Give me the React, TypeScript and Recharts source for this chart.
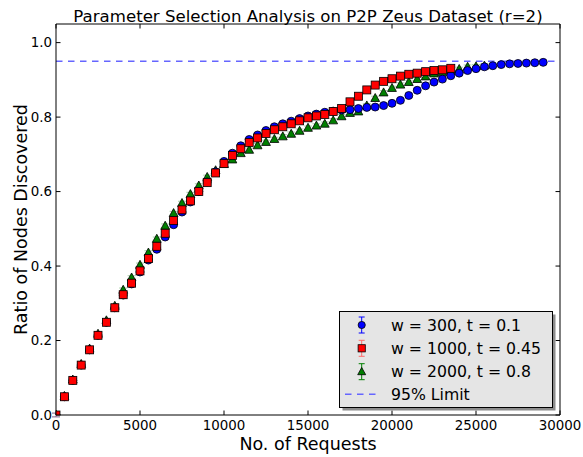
import React from 'react';
import { ComposedChart, Scatter, XAxis, YAxis, ReferenceLine, ErrorBar, Legend } from 'recharts';

const requests = [
  0, 500, 1000, 1500, 2000, 2500, 3000, 3500, 4000, 4500,
  5000, 5500, 6000, 6500, 7000, 7500, 8000, 8500, 9000, 9500,
  10000, 10500, 11000, 11500, 12000, 12500, 13000, 13500, 14000, 14500,
  15000, 15500, 16000, 16500, 17000, 17500, 18000, 18500, 19000, 19500,
  20000, 20500, 21000, 21500, 22000, 22500, 23000, 23500, 24000, 24500,
  25000, 25500, 26000, 26500, 27000, 27500, 28000, 28500, 29000,
];

const ratioW300 = [
  0.0, 0.049, 0.093, 0.134, 0.175, 0.214, 0.249, 0.288, 0.322, 0.352,
  0.384, 0.416, 0.445, 0.478, 0.511, 0.545, 0.572, 0.6, 0.626, 0.653,
  0.681, 0.703, 0.723, 0.74, 0.752, 0.764, 0.774, 0.782, 0.789, 0.796,
  0.803, 0.808, 0.813, 0.816, 0.819, 0.82, 0.823, 0.826, 0.827, 0.831,
  0.837, 0.845, 0.858, 0.872, 0.884, 0.894, 0.902, 0.911, 0.918, 0.925,
  0.93, 0.935, 0.938, 0.941, 0.943, 0.944, 0.945, 0.946, 0.947,
];

const ratioW1000 = [
  0.0, 0.049, 0.093, 0.134, 0.175, 0.214, 0.249, 0.288, 0.323, 0.354,
  0.387, 0.42, 0.453, 0.488, 0.522, 0.551, 0.575, 0.6, 0.624, 0.65,
  0.675, 0.697, 0.715, 0.732, 0.744, 0.756, 0.766, 0.774, 0.782, 0.79,
  0.798, 0.803, 0.807, 0.815, 0.823, 0.841, 0.856, 0.873, 0.886, 0.896,
  0.903, 0.91, 0.915, 0.918, 0.922, 0.925, 0.927, 0.931,
];

const ratioW2000 = [
  0.0, 0.051, 0.095, 0.137, 0.178, 0.218, 0.254, 0.293, 0.336, 0.369,
  0.403, 0.436, 0.473, 0.508, 0.542, 0.569, 0.593, 0.616, 0.639, 0.657,
  0.674, 0.686, 0.703, 0.712, 0.724, 0.733, 0.741, 0.748, 0.755, 0.763,
  0.771, 0.777, 0.782, 0.791, 0.802, 0.811, 0.815, 0.831, 0.851, 0.866,
  0.878, 0.887, 0.894, 0.902, 0.909, 0.917, 0.92, 0.924, 0.929, 0.935,
  0.936, 0.938,
];

const errW300 = 0.005;
const errW1000 = 0.005;
const errW2000 = 0.005;

const xTicks = [0, 5000, 10000, 15000, 20000, 25000, 30000];
const yTicks = [0, 0.2, 0.4, 0.6, 0.8, 1.0];

const seriesLabels = ['w = 300, t = 0.1', 'w = 1000, t = 0.45', 'w = 2000, t = 0.8'];
const limitLabel = '95% Limit';
const limitValue = 0.95;
const titleText = 'Parameter Selection Analysis on P2P Zeus Dataset (r=2)';
const xLabel = 'No. of Requests';
const yLabel = 'Ratio of Nodes Discovered';

const FONT = '"DejaVu Sans", Verdana, sans-serif';
const TL = 4.5;

const toPoints = (vals: number[], err: number) =>
  vals.map((v, i) => ({ x: requests[i], y: v, err }));

const dataW300 = toPoints(ratioW300, errW300);
const dataW1000 = toPoints(ratioW1000, errW1000);
const dataW2000 = toPoints(ratioW2000, errW2000);

const CircleShape = (p: any) => (
  <circle cx={p.cx} cy={p.cy} r={4} fill="#0000ff" stroke="#000" strokeWidth={0.8} />
);
const SquareShape = (p: any) => (
  <rect x={p.cx - 4} y={p.cy - 4} width={8} height={8} fill="#ff0000" stroke="#000" strokeWidth={0.8} />
);
const TriShape = (p: any) => (
  <polygon
    points={`${p.cx},${p.cy - 4.6} ${p.cx - 4.4},${p.cy + 3.4} ${p.cx + 4.4},${p.cy + 3.4}`}
    fill="#007f00"
    stroke="#000"
    strokeWidth={0.8}
  />
);
const NoShape = () => <g />;

const BottomTick = (props: any) => {
  const { x, y, payload } = props;
  const ay = y - 5;
  return (
    <g>
      <line x1={x} x2={x} y1={ay} y2={ay - TL} stroke="#000" strokeWidth={1} />
      <text x={x} y={y} dy="0.71em" textAnchor="middle" fontSize={13.4} fontFamily={FONT} fill="#000">
        {payload.value}
      </text>
    </g>
  );
};
const TopTick = (props: any) => {
  const { x, y } = props;
  return <line x1={x} x2={x} y1={y} y2={y + TL} stroke="#000" strokeWidth={1} />;
};
const LeftTick = (props: any) => {
  const { x, y, payload } = props;
  const ax = x + 4;
  return (
    <g>
      <line x1={ax} x2={ax + TL} y1={y} y2={y} stroke="#000" strokeWidth={1} />
      <text x={x} y={y} dy="0.355em" textAnchor="end" fontSize={13.4} fontFamily={FONT} fill="#000">
        {Number(payload.value).toFixed(1)}
      </text>
    </g>
  );
};
const RightTick = (props: any) => {
  const { x, y } = props;
  return <line x1={x} x2={x - TL} y1={y} y2={y} stroke="#000" strokeWidth={1} />;
};

const XTitle = (props: any) => {
  const vb = props.viewBox || {};
  return (
    <text x={vb.x + vb.width / 2} y={vb.y + 34.5} textAnchor="middle" fontSize={17.5} fontFamily={FONT} fill="#000">
      {xLabel}
    </text>
  );
};
const YTitle = (props: any) => {
  const vb = props.viewBox || {};
  const cy = vb.y + vb.height / 2;
  return (
    <text
      x={27}
      y={cy}
      transform={`rotate(-90 27 ${cy})`}
      textAnchor="middle"
      fontSize={17.5}
      fontFamily={FONT}
      fill="#000"
    >
      {yLabel}
    </text>
  );
};
const ChartTitle = (props: any) => {
  const vb = props.viewBox || {};
  return (
    <text x={vb.x + vb.width / 2} y={vb.y - 1.5} textAnchor="middle" fontSize={16.6} fontFamily={FONT} fill="#000">
      {titleText}
    </text>
  );
};

const ErrIcon = ({ cx, cy, color }: { cx: number; cy: number; color: string }) => (
  <g stroke={color} strokeWidth={1}>
    <line x1={cx} x2={cx} y1={cy - 8} y2={cy + 8} />
    <line x1={cx - 3} x2={cx + 3} y1={cy - 8} y2={cy - 8} />
    <line x1={cx - 3} x2={cx + 3} y1={cy + 8} y2={cy + 8} />
  </g>
);

const LegendBox = () => {
  const rows = [14, 37.3, 60.7, 83.3];
  const mx = 22.7;
  const tx = 52;
  return (
    <svg width={220} height={102} style={{ display: 'block' }}>
      <rect x={3.5} y={3.5} width={213} height={96} fill="#8c8c8c" />
      <rect x={0.5} y={0.5} width={213} height={96} fill="#e5e5e5" stroke="#000" strokeWidth={1} />
      <ErrIcon cx={mx} cy={rows[0]} color="#0000ff" />
      <circle cx={mx} cy={rows[0]} r={3.6} fill="#0000ff" stroke="#000" strokeWidth={0.8} />
      <ErrIcon cx={mx} cy={rows[1]} color="#ff6b6b" />
      <rect x={mx - 3.6} y={rows[1] - 3.6} width={7.2} height={7.2} fill="#ff0000" stroke="#000" strokeWidth={0.8} />
      <ErrIcon cx={mx} cy={rows[2]} color="#007f00" />
      <polygon
        points={`${mx},${rows[2] - 4.2} ${mx - 4},${rows[2] + 3} ${mx + 4},${rows[2] + 3}`}
        fill="#007f00"
        stroke="#000"
        strokeWidth={0.8}
      />
      <line x1={6} x2={40} y1={rows[3]} y2={rows[3]} stroke="#6666ff" strokeWidth={1.5} strokeDasharray="6.5 5.5" />
      {seriesLabels.concat([limitLabel]).map((s, i) => (
        <text key={s} x={tx} y={rows[i]} dy="0.36em" fontSize={15.7} fontFamily={FONT} fill="#000">
          {s}
        </text>
      ))}
    </svg>
  );
};

export default function App() {
  return (
    <div style={{ position: 'absolute', left: 0, top: 0, width: 583, height: 457, background: '#fff' }}>
      <ComposedChart width={583} height={457} margin={{ top: 23, right: 22, bottom: 0, left: 0 }}>
        <XAxis
          xAxisId="bottom"
          type="number"
          dataKey="x"
          domain={[0, 30000]}
          ticks={xTicks}
          allowDataOverflow
          height={42}
          tickSize={0}
          tickMargin={5}
          tick={<BottomTick />}
          axisLine={{ stroke: '#000', strokeWidth: 1 }}
          tickLine={false}
          interval={0}
          label={<XTitle />}
        />
        <XAxis
          xAxisId="top"
          orientation="top"
          type="number"
          dataKey="x"
          domain={[0, 30000]}
          ticks={xTicks}
          allowDataOverflow
          height={1}
          tickSize={0}
          tickMargin={0}
          tick={<TopTick />}
          axisLine={{ stroke: '#000', strokeWidth: 1 }}
          tickLine={false}
          interval={0}
          label={<ChartTitle />}
        />
        <YAxis
          yAxisId="left"
          type="number"
          dataKey="y"
          domain={[0, 1.05]}
          ticks={yTicks}
          allowDataOverflow
          width={56}
          tickSize={0}
          tickMargin={4}
          tick={<LeftTick />}
          axisLine={{ stroke: '#000', strokeWidth: 1 }}
          tickLine={false}
          interval={0}
          label={<YTitle />}
        />
        <YAxis
          yAxisId="right"
          orientation="right"
          type="number"
          dataKey="y"
          domain={[0, 1.05]}
          ticks={yTicks}
          allowDataOverflow
          width={1}
          tickSize={0}
          tickMargin={0}
          tick={<RightTick />}
          axisLine={{ stroke: '#000', strokeWidth: 1 }}
          tickLine={false}
          interval={0}
        />
        <ReferenceLine
          xAxisId="bottom"
          yAxisId="left"
          y={limitValue}
          stroke="#6666ff"
          strokeWidth={1.5}
          strokeDasharray="6.5 5.5"
        />
        <Scatter
          data={dataW300}
          xAxisId="top"
          yAxisId="right"
          shape={NoShape}
          legendType="none"
          isAnimationActive={false}
        />
        <Scatter
          name={seriesLabels[2]}
          data={dataW2000}
          xAxisId="bottom"
          yAxisId="left"
          shape={TriShape}
          isAnimationActive={false}
        >
          <ErrorBar dataKey="err" direction="y" width={4} stroke="#007f00" strokeOpacity={0.35} strokeWidth={1} />
        </Scatter>
        <Scatter
          name={seriesLabels[0]}
          data={dataW300}
          xAxisId="bottom"
          yAxisId="left"
          shape={CircleShape}
          isAnimationActive={false}
        >
          <ErrorBar dataKey="err" direction="y" width={4} stroke="#0000ff" strokeOpacity={0.35} strokeWidth={1} />
        </Scatter>
        <Scatter
          name={seriesLabels[1]}
          data={dataW1000}
          xAxisId="bottom"
          yAxisId="left"
          shape={SquareShape}
          isAnimationActive={false}
        >
          <ErrorBar dataKey="err" direction="y" width={4} stroke="#ff6b6b" strokeOpacity={0.35} strokeWidth={1} />
        </Scatter>
        <Legend
          layout="horizontal"
          align="center"
          verticalAlign="middle"
          content={<LegendBox />}
          wrapperStyle={{ left: 339, top: 311, width: 220, height: 102 }}
        />
      </ComposedChart>
    </div>
  );
}
